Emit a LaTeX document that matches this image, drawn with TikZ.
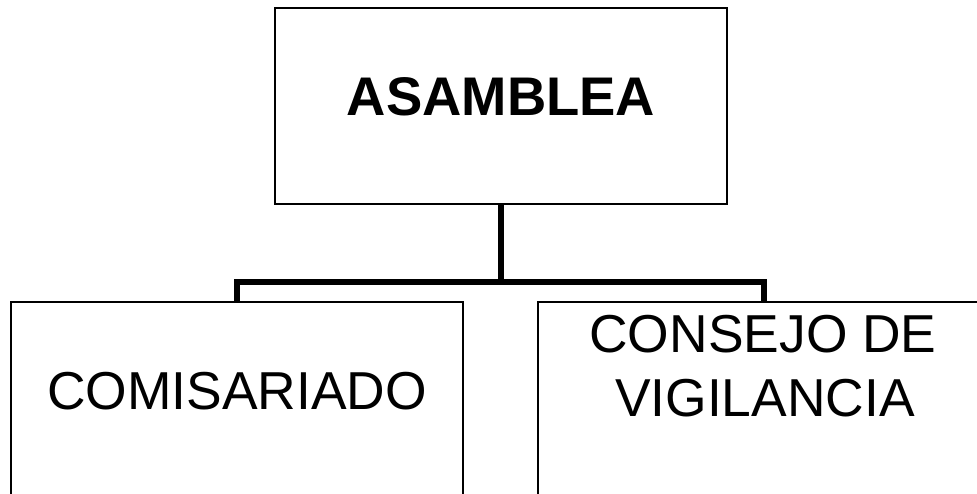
\documentclass[tikz,border=0pt]{standalone}
\usepackage{fontspec}
\setmainfont{Liberation Sans}
\begin{document}
\begin{tikzpicture}[x=1pt,y=-1pt,
  box/.style={draw=black,line width=2pt,minimum width=452pt,inner sep=0pt,outer sep=0pt},
  conn/.style={draw=black,line width=5.5pt},
  lbl/.style={anchor=base,inner sep=0pt,font=\fontsize{53.4}{64}\selectfont}]
\useasboundingbox (0,0) rectangle (977,493);
\begin{scope}
\clip (0,0) rectangle (977,493);
\node[box,minimum height=196pt] (top) at (501,106) {};
\node[box,minimum height=198pt] (com) at (237,401) {};
\node[box,minimum height=198pt] (cons) at (764,401) {};
\coordinate (split) at (501,282);
\draw[conn] (top.south) -- (split) -| (com.north);
\draw[conn] (split) -| (cons.north);
\node[lbl,font=\fontsize{54.4}{64}\selectfont\bfseries] (tasam) at (501,115) {ASAMBLEA};
\node[lbl] (tcom) at (237,409) {COMISARIADO};
\node[lbl] (tcons1) at (763,352) {CONSEJO DE};
\node[lbl] (tcons2) at (765,416) {VIGILANCIA};
\end{scope}
\end{tikzpicture}
\end{document}
